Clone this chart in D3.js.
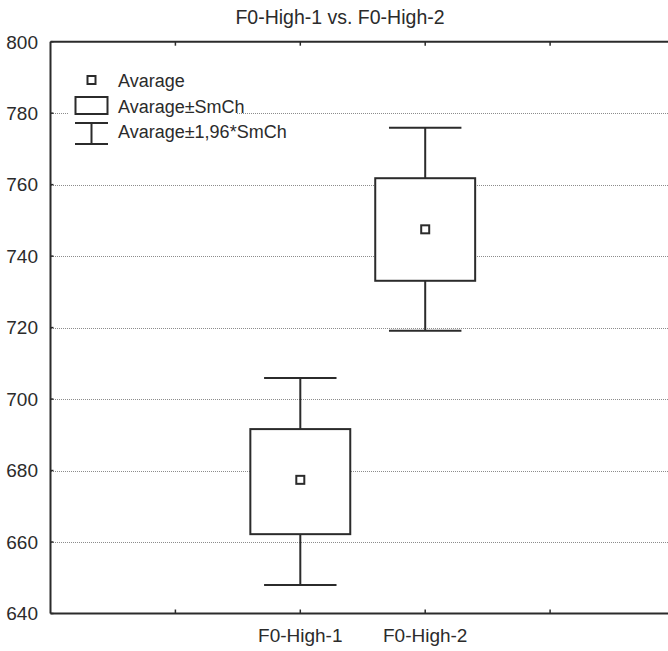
<!DOCTYPE html>
<html>
<head>
<meta charset="utf-8">
<script src="https://cdn.jsdelivr.net/npm/d3@7.9.0/dist/d3.min.js"></script>
<style>
    html, body { margin: 0; padding: 0; background: #fff; }
    svg { display: block; font-family: "Liberation Sans", Arial, sans-serif; }
</style>
</head>
<body>
<div id="chart"></div>
<script>
"use strict";

const TITLE = "F0-High-1 vs. F0-High-2";
const CATEGORIES = ["F0-High-1", "F0-High-2"];
const MEANS = [677.4, 747.5];
const BOX_LOW = [662.2, 733.1];     // Avarage - SmCh
const BOX_HIGH = [691.6, 761.8];    // Avarage + SmCh
const WHISK_LOW = [648.0, 719.1];   // Avarage - 1,96*SmCh
const WHISK_HIGH = [705.9, 775.9];  // Avarage + 1,96*SmCh
const Y_TICKS = [640, 660, 680, 700, 720, 740, 760, 780, 800];
const X_TICKS = [-1, 0, 1, 2];
const LEGEND = ["Avarage", "Avarage\u00b1SmCh", "Avarage\u00b11,96*SmCh"];

const W = 668, H = 651;
const margin = { top: 41.7, right: -7, bottom: 37.5, left: 50.5 };
const inkColor = "#2b2b2b";

const svg = d3.select("#chart").append("svg")
    .attr("width", W)
    .attr("height", H);

// Scales: categories sit on the 2nd and 3rd of the four inner ticks
const x = d3.scaleLinear()
    .domain([-2, 3])
    .range([margin.left, W - margin.right]);

const y = d3.scaleLinear()
    .domain([640, 800])
    .range([H - margin.bottom, margin.top]);

// Dotted grid lines
svg.append("g")
    .attr("shape-rendering", "crispEdges")
    .selectAll("line")
    .data(Y_TICKS.filter((d) => d > 640 && d < 800))
    .join("line")
    .attr("x1", x(-2))
    .attr("x2", x(3))
    .attr("y1", (d) => Math.round(y(d)) + 0.5)
    .attr("y2", (d) => Math.round(y(d)) + 0.5)
    .attr("stroke", "#8c8c8c")
    .attr("stroke-width", 1)
    .attr("stroke-dasharray", "1,1");

// Legend background hides the grid under it
svg.append("rect")
    .attr("x", 68)
    .attr("y", 62)
    .attr("width", 168)
    .attr("height", 88)
    .attr("fill", "#fff");

// Axes frame
const frame = svg.append("g")
    .attr("stroke", inkColor)
    .attr("stroke-width", 2)
    .attr("fill", "none");

frame.append("line")
    .attr("x1", x(-2)).attr("x2", x(3))
    .attr("y1", y(640)).attr("y2", y(640));
frame.append("line")
    .attr("x1", x(-2)).attr("x2", x(3))
    .attr("y1", y(800)).attr("y2", y(800));
frame.append("line")
    .attr("x1", x(-2)).attr("x2", x(-2))
    .attr("y1", y(640)).attr("y2", y(800));

// Inner ticks on bottom and top
frame.selectAll("line.xb")
    .data(X_TICKS)
    .join("line")
    .attr("class", "xb")
    .attr("x1", (d) => x(d)).attr("x2", (d) => x(d))
    .attr("y1", y(640)).attr("y2", y(640) - 4)
    .attr("stroke-width", 1.5);
frame.selectAll("line.xt")
    .data(X_TICKS)
    .join("line")
    .attr("class", "xt")
    .attr("x1", (d) => x(d)).attr("x2", (d) => x(d))
    .attr("y1", y(800)).attr("y2", y(800) + 4)
    .attr("stroke-width", 1.5);
frame.selectAll("line.yl")
    .data(Y_TICKS)
    .join("line")
    .attr("class", "yl")
    .attr("x1", x(-2)).attr("x2", x(-2) + 3)
    .attr("y1", (d) => y(d)).attr("y2", (d) => y(d))
    .attr("stroke-width", 1.5);

// Y tick labels
svg.append("g")
    .selectAll("text")
    .data(Y_TICKS)
    .join("text")
    .attr("x", 38)
    .attr("y", (d) => y(d))
    .attr("dy", "0.36em")
    .attr("text-anchor", "end")
    .attr("font-size", 19)
    .attr("fill", inkColor)
    .text((d) => d);

// X category labels
svg.append("g")
    .selectAll("text")
    .data(CATEGORIES)
    .join("text")
    .attr("x", (d, i) => x(i))
    .attr("y", 642)
    .attr("text-anchor", "middle")
    .attr("font-size", 19)
    .attr("fill", inkColor)
    .text((d) => d);

// Title
svg.append("text")
    .attr("x", 340)
    .attr("y", 24)
    .attr("text-anchor", "middle")
    .attr("font-size", 19.5)
    .attr("fill", inkColor)
    .text(TITLE);

// Box and whisker marks
const boxW = 0.8, capW = 0.58, markerSize = 8;
const marks = svg.append("g")
    .attr("stroke", inkColor)
    .attr("stroke-width", 2);

CATEGORIES.forEach((c, i) => {
    const g = marks.append("g");
    g.append("line")
        .attr("x1", x(i)).attr("x2", x(i))
        .attr("y1", y(WHISK_LOW[i])).attr("y2", y(WHISK_HIGH[i]));
    g.append("line")
        .attr("x1", x(i - capW / 2)).attr("x2", x(i + capW / 2))
        .attr("y1", y(WHISK_HIGH[i])).attr("y2", y(WHISK_HIGH[i]));
    g.append("line")
        .attr("x1", x(i - capW / 2)).attr("x2", x(i + capW / 2))
        .attr("y1", y(WHISK_LOW[i])).attr("y2", y(WHISK_LOW[i]));
    g.append("rect")
        .attr("x", x(i - boxW / 2))
        .attr("y", y(BOX_HIGH[i]))
        .attr("width", x(i + boxW / 2) - x(i - boxW / 2))
        .attr("height", y(BOX_LOW[i]) - y(BOX_HIGH[i]))
        .attr("fill", "#fff");
    g.append("rect")
        .attr("x", x(i) - markerSize / 2)
        .attr("y", y(MEANS[i]) - markerSize / 2)
        .attr("width", markerSize)
        .attr("height", markerSize)
        .attr("fill", "#fff");
});

// Legend
const lg = svg.append("g");
const icons = lg.append("g")
    .attr("stroke", inkColor)
    .attr("stroke-width", 2)
    .attr("fill", "#fff");

icons.append("rect")
    .attr("x", 91.5 - markerSize / 2)
    .attr("y", 80 - markerSize / 2)
    .attr("width", markerSize)
    .attr("height", markerSize);
icons.append("rect")
    .attr("x", 75.5)
    .attr("y", 97)
    .attr("width", 32)
    .attr("height", 17);
icons.append("line").attr("x1", 75).attr("x2", 108).attr("y1", 123).attr("y2", 123);
icons.append("line").attr("x1", 75).attr("x2", 108).attr("y1", 144).attr("y2", 144);
icons.append("line").attr("x1", 91.5).attr("x2", 91.5).attr("y1", 123).attr("y2", 144);

lg.selectAll("text")
    .data(LEGEND)
    .join("text")
    .attr("x", 118)
    .attr("y", (d, i) => [87, 112.5, 138][i])
    .attr("font-size", 18)
    .attr("fill", inkColor)
    .text((d) => d);
</script>
</body>
</html>
